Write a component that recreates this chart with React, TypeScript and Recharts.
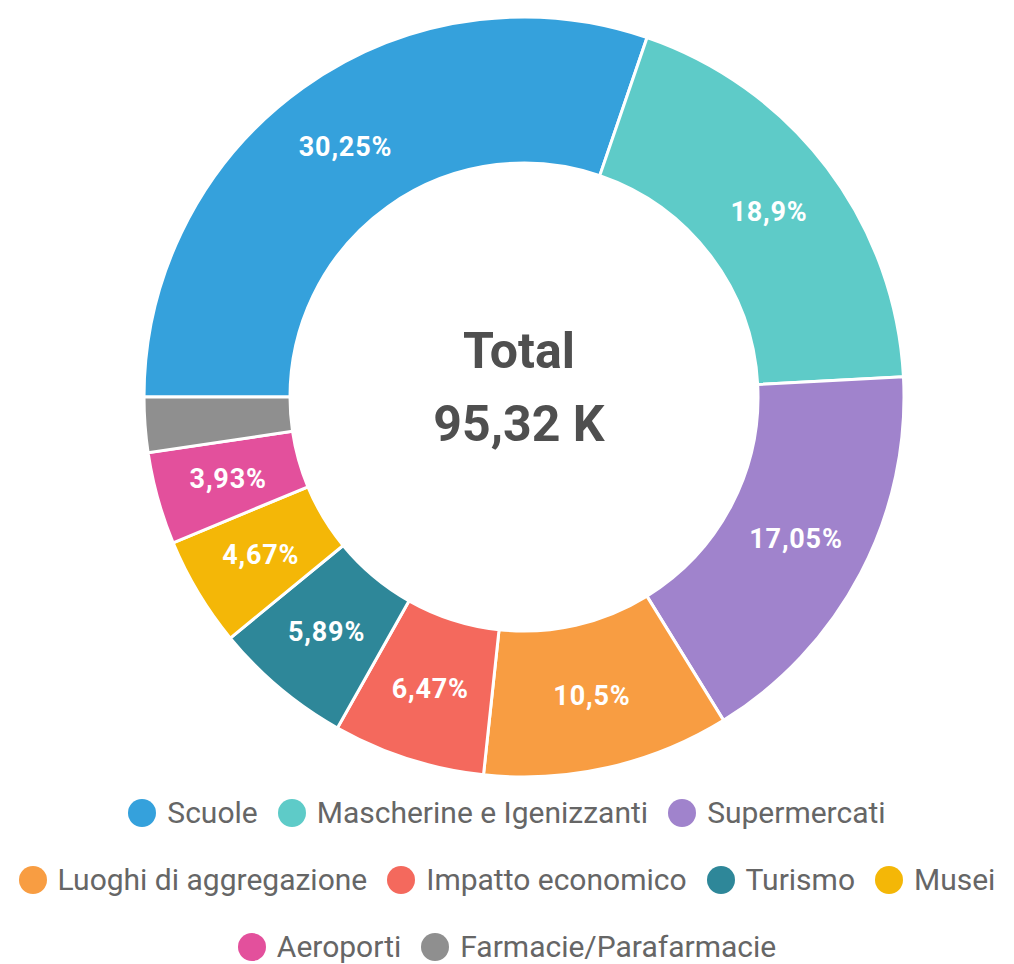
import React from "react";
import { PieChart, Pie, Cell, Legend } from "recharts";

const categories = [
  "Scuole",
  "Mascherine e Igenizzanti",
  "Supermercati",
  "Luoghi di aggregazione",
  "Impatto economico",
  "Turismo",
  "Musei",
  "Aeroporti",
  "Farmacie/Parafarmacie",
];
const shares = [30.25, 18.9, 17.05, 10.5, 6.47, 5.89, 4.67, 3.93, 2.34];
const colors = [
  "#35a1dc",
  "#5ecbc8",
  "#a083cc",
  "#f89d42",
  "#f4695d",
  "#2e8799",
  "#f4b707",
  "#e3509c",
  "#8f8f8f",
];
const legendRowSizes = [3, 4, 2];
const totalLabel = "Total";
const totalValue = "95,32 K";
const labelThreshold = 3;

const data = categories.map((name, i) => ({ name, value: shares[i] }));

const RADIAN = Math.PI / 180;
const fmt = (v: number) => String(v).replace(".", ",") + "%";

const renderLabel = (props: any) => {
  const { cx, cy, midAngle, innerRadius, outerRadius, value } = props;
  if (value < labelThreshold) return null;
  const r = (innerRadius + outerRadius) / 2;
  const x = cx + r * Math.cos(-midAngle * RADIAN);
  const y = cy + r * Math.sin(-midAngle * RADIAN);
  return (
    <text
      x={x}
      y={y}
      fill="#ffffff"
      textAnchor="middle"
      dominantBaseline="central"
      fontFamily="Roboto, sans-serif"
      fontWeight={700}
      fontSize={27}
      letterSpacing={0.8}
    >
      {fmt(value)}
    </text>
  );
};

const renderLegend = (props: any) => {
  const payload = [...(props.payload || [])].sort(
    (a: any, b: any) => categories.indexOf(a.value) - categories.indexOf(b.value)
  );
  const rows: any[][] = [];
  let idx = 0;
  legendRowSizes.forEach((n) => {
    rows.push(payload.slice(idx, idx + n));
    idx += n;
  });
  return (
    <div style={{ width: 1014 }}>
      {rows.map((row, ri) => (
        <div
          key={ri}
          style={{
            display: "flex",
            justifyContent: "center",
            alignItems: "center",
            height: 67,
          }}
        >
          {row.map((entry: any, i: number) => (
            <div
              key={i}
              style={{
                display: "flex",
                alignItems: "center",
                marginRight: i < row.length - 1 ? 20 : 0,
              }}
            >
              <span
                style={{
                  display: "inline-block",
                  width: 28,
                  height: 28,
                  borderRadius: "50%",
                  background: entry.color,
                  marginRight: 11,
                }}
              />
              <span
                style={{
                  fontFamily: "Roboto, sans-serif",
                  fontSize: 30,
                  color: "#666666",
                  whiteSpace: "nowrap",
                }}
              >
                {entry.value}
              </span>
            </div>
          ))}
        </div>
      ))}
    </div>
  );
};

export default function App() {
  return (
    <div style={{ position: "absolute", left: 0, top: 0, width: 1014, height: 964, background: "#fff" }}>
      <PieChart width={1014} height={964}>
        <Pie
          data={data}
          dataKey="value"
          nameKey="name"
          cx={519}
          cy={392}
          innerRadius={234}
          outerRadius={380}
          startAngle={180}
          endAngle={-180}
          stroke="#ffffff"
          strokeWidth={3}
          label={renderLabel}
          labelLine={false}
          isAnimationActive={false}
        >
          {data.map((d, i) => (
            <Cell key={d.name} fill={colors[i]} />
          ))}
        </Pie>
        <Legend
          content={renderLegend}
          wrapperStyle={{ position: "absolute", top: 779, left: 0, width: 1014 }}
        />
      </PieChart>
      <div
        style={{
          position: "absolute",
          left: 319,
          width: 400,
          top: 315,
          textAlign: "center",
          fontFamily: "Roboto, sans-serif",
          fontWeight: 700,
          fontSize: 50,
          color: "#4f4f4f",
          lineHeight: "73px",
        }}
      >
        <div>{totalLabel}</div>
        <div>{totalValue}</div>
      </div>
    </div>
  );
}
